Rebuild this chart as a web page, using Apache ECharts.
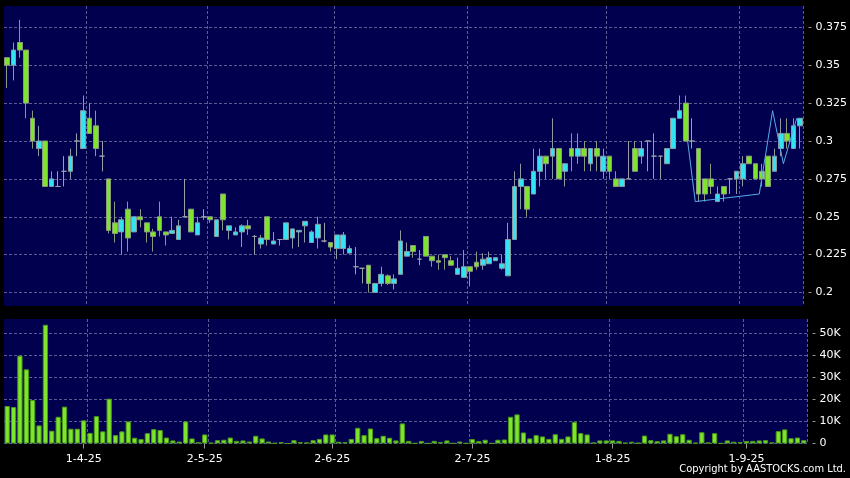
<!DOCTYPE html>
<html><head><meta charset="utf-8">
<script src="https://cdn.jsdelivr.net/npm/echarts@6/dist/echarts.min.js"></script>
<style>html,body{margin:0;padding:0;background:#000;}#c{width:850px;height:478px;}</style>
</head><body><div id="c"></div>
<script>
const dates = [
'14-3-25','17-3-25','18-3-25','19-3-25','20-3-25','21-3-25','24-3-25','25-3-25','26-3-25','27-3-25','28-3-25','31-3-25',
'1-4-25','2-4-25','3-4-25','7-4-25','8-4-25','9-4-25','10-4-25','11-4-25','14-4-25','15-4-25','16-4-25','17-4-25','22-4-25','23-4-25','24-4-25','25-4-25','28-4-25','29-4-25','30-4-25',
'2-5-25','6-5-25','7-5-25','8-5-25','9-5-25','12-5-25','13-5-25','14-5-25','15-5-25','16-5-25','19-5-25','20-5-25','21-5-25','22-5-25','23-5-25','26-5-25','27-5-25','28-5-25','29-5-25','30-5-25',
'2-6-25','3-6-25','4-6-25','5-6-25','6-6-25','9-6-25','10-6-25','11-6-25','12-6-25','13-6-25','16-6-25','17-6-25','18-6-25','19-6-25','20-6-25','23-6-25','24-6-25','25-6-25','26-6-25','27-6-25','30-6-25',
'1-7-25','2-7-25','3-7-25','4-7-25','7-7-25','8-7-25','9-7-25','10-7-25','11-7-25','14-7-25','15-7-25','16-7-25','17-7-25','18-7-25','21-7-25','22-7-25','23-7-25','24-7-25','25-7-25','28-7-25','29-7-25','30-7-25','31-7-25',
'1-8-25','4-8-25','5-8-25','6-8-25','7-8-25','8-8-25','11-8-25','12-8-25','13-8-25','14-8-25','15-8-25','18-8-25','19-8-25','20-8-25','21-8-25','22-8-25','25-8-25','26-8-25','27-8-25','28-8-25','29-8-25',
'1-9-25','2-9-25','3-9-25','4-9-25','5-9-25','8-9-25','9-9-25','10-9-25','11-9-25','12-9-25'
];
// [open, close, low, high]
const ohlc = [
[0.355,0.35,0.335,0.355],[0.35,0.36,0.34,0.365],[0.365,0.36,0.355,0.38],[0.36,0.325,0.315,0.36],[0.315,0.30,0.295,0.32],
[0.295,0.30,0.29,0.31],[0.30,0.27,0.27,0.30],[0.27,0.275,0.27,0.28],[0.27,0.27,0.27,0.28],[0.28,0.28,0.27,0.29],
[0.28,0.29,0.275,0.295],[0.30,0.30,0.29,0.305],[0.295,0.32,0.295,0.33],[0.315,0.305,0.305,0.325],[0.31,0.295,0.29,0.32],
[0.29,0.29,0.28,0.30],[0.275,0.241,0.239,0.275],[0.246,0.239,0.233,0.26],[0.24,0.248,0.225,0.25],[0.255,0.236,0.227,0.26],
[0.24,0.25,0.24,0.25],[0.25,0.248,0.243,0.255],[0.246,0.24,0.233,0.246],[0.24,0.237,0.227,0.242],[0.25,0.241,0.237,0.26],
[0.24,0.238,0.231,0.24],[0.239,0.241,0.239,0.25],[0.235,0.244,0.235,0.248],[0.25,0.25,0.25,0.275],[0.255,0.24,0.24,0.255],
[0.238,0.246,0.238,0.25],[0.25,0.25,0.248,0.255],[0.25,0.248,0.246,0.25],[0.237,0.248,0.237,0.248],[0.265,0.248,0.241,0.265],
[0.241,0.244,0.235,0.244],[0.238,0.24,0.238,0.243],[0.24,0.244,0.23,0.245],[0.244,0.242,0.238,0.248],[0.237,0.237,0.225,0.238],
[0.232,0.236,0.229,0.238],[0.25,0.235,0.231,0.25],[0.232,0.234,0.232,0.24],[0.235,0.235,0.231,0.235],[0.235,0.246,0.235,0.246],
[0.236,0.242,0.229,0.242],[0.24,0.241,0.23,0.241],[0.244,0.247,0.233,0.247],[0.233,0.24,0.233,0.241],[0.236,0.245,0.229,0.25],
[0.234,0.234,0.233,0.246],[0.233,0.23,0.227,0.233],[0.229,0.238,0.222,0.238],[0.229,0.238,0.225,0.24],[0.226,0.229,0.226,0.231],
[0.217,0.217,0.212,0.23],[0.216,0.216,0.206,0.216],[0.218,0.206,0.2,0.218],[0.2,0.206,0.2,0.206],[0.206,0.212,0.204,0.217],
[0.211,0.206,0.205,0.212],[0.206,0.209,0.202,0.212],[0.212,0.234,0.212,0.241],[0.224,0.227,0.224,0.233],[0.231,0.227,0.223,0.231],
[0.222,0.222,0.218,0.228],[0.237,0.224,0.224,0.237],[0.224,0.221,0.217,0.224],[0.221,0.22,0.215,0.225],[0.225,0.223,0.215,0.225],
[0.221,0.218,0.218,0.224],[0.212,0.216,0.212,0.223],[0.21,0.217,0.21,0.228],[0.217,0.214,0.204,0.217],[0.22,0.217,0.215,0.227],
[0.218,0.222,0.215,0.226],[0.219,0.223,0.219,0.227],[0.221,0.223,0.221,0.223],[0.216,0.219,0.215,0.225],[0.211,0.235,0.211,0.246],
[0.235,0.27,0.235,0.28],[0.27,0.275,0.255,0.285],[0.27,0.255,0.25,0.27],[0.265,0.28,0.265,0.295],[0.28,0.29,0.27,0.295],
[0.29,0.285,0.275,0.29],[0.29,0.295,0.275,0.315],[0.295,0.275,0.275,0.295],[0.28,0.285,0.27,0.285],[0.295,0.29,0.28,0.305],
[0.29,0.295,0.285,0.305],[0.295,0.29,0.28,0.30],[0.285,0.295,0.28,0.295],[0.295,0.29,0.28,0.30],[0.28,0.29,0.275,0.295],
[0.29,0.28,0.275,0.29],[0.275,0.27,0.27,0.28],[0.27,0.275,0.27,0.275],[0.275,0.275,0.275,0.30],[0.295,0.28,0.28,0.30],
[0.29,0.295,0.285,0.30],[0.30,0.30,0.28,0.30],[0.29,0.29,0.275,0.305],[0.29,0.29,0.275,0.29],[0.285,0.295,0.285,0.295],
[0.295,0.315,0.295,0.315],[0.315,0.32,0.315,0.33],[0.325,0.30,0.30,0.33],[0.30,0.30,0.295,0.315],[0.295,0.265,0.26,0.295],
[0.275,0.265,0.26,0.275],[0.275,0.27,0.265,0.285],[0.26,0.265,0.26,0.27],[0.27,0.265,0.26,0.27],[0.275,0.275,0.265,0.275],
[0.275,0.28,0.265,0.28],[0.275,0.285,0.27,0.29],[0.29,0.285,0.285,0.29],[0.285,0.275,0.275,0.285],[0.28,0.275,0.27,0.285],
[0.29,0.27,0.27,0.29],[0.28,0.29,0.28,0.295],[0.295,0.305,0.29,0.315],[0.305,0.30,0.295,0.315],[0.295,0.31,0.295,0.315],
[0.31,0.315,0.295,0.315]
];
const volumes = [
17000,16500,39800,33600,19700,8200,53800,5800,12100,16700,
6700,6700,10500,4800,12400,5500,20300,3800,5500,10000,
2600,2000,4700,6500,6100,2700,1400,900,10000,2300,
600,4100,300,1500,1700,2700,1200,1400,900,3500,
2300,900,200,600,0,1500,600,500,1500,2100,
4100,4100,800,600,2100,7100,3800,6800,2400,3500,
2600,1400,9100,1200,100,1100,100,1200,600,1400,
100,900,100,2000,1100,1700,100,1700,1800,12100,
13200,5000,2300,3800,3200,2100,4200,2100,3200,9800,
4700,4100,500,1400,1400,1400,1200,300,800,300,
3600,1500,1100,1400,4400,3300,4200,1700,300,5100,
500,4700,100,1400,800,600,1100,1200,1400,1500,
500,5600,6400,2400,2700,1500
];
const priceTicks = [0.2,0.225,0.25,0.275,0.3,0.325,0.35,0.375];
const priceTickLabels = ['0.2','0.225','0.25','0.275','0.3','0.325','0.35','0.375'];
const volumeTicks = [0,10000,20000,30000,40000,50000];
const volumeTickLabels = ['0','10K','20K','30K','40K','50K'];
const labelDates = ['1-4-25','2-5-25','2-6-25','2-7-25','1-8-25','1-9-25'];
const gridDates = ['2-4-25','6-5-25','3-6-25','2-7-25','1-8-25','1-9-25'];
const trendX = [107.3,108.5,118.6,120.7,122.4,124.5];
const trendY = [0.30,0.26,0.265,0.32,0.285,0.315];

const FONT = 'DejaVu Sans';
const NAVY = '#00004e';
const GRIDLINE = {show:true, lineStyle:{color:'#5c5c94', type:[3,2], width:1}};
function tickLabel(ticks, labels, v){
  const i = ticks.findIndex(t => Math.abs(t - v) < 1e-9);
  return i < 0 ? '' : '{d|-} ' + labels[i];
}
const chart = echarts.init(document.getElementById('c'), null, {renderer:'canvas', width:850, height:478});
chart.setOption({
  backgroundColor:'#000',
  animation:false,
  grid:[
    {left:4, right:43, top:6, height:300, show:true, backgroundColor:NAVY, borderWidth:0},
    {left:4, right:43, top:319, height:124.5, show:true, backgroundColor:NAVY, borderWidth:0}
  ],
  xAxis:[
    {type:'category', gridIndex:0, data:dates, boundaryGap:true,
     axisLine:{show:false}, axisTick:{show:false}, axisLabel:{show:false},
     splitLine:Object.assign({}, GRIDLINE, {interval:(i,v)=>gridDates.includes(dates[i])})},
    {type:'category', gridIndex:1, data:dates, boundaryGap:true,
     axisLine:{show:false},
     axisTick:{show:true, alignWithLabel:true, length:5, interval:(i,v)=>labelDates.includes(dates[i]), lineStyle:{color:'#999'}},
     axisLabel:{interval:(i,v)=>labelDates.includes(dates[i]), color:'#fff', fontSize:11, fontFamily:FONT, margin:10},
     splitLine:Object.assign({}, GRIDLINE, {interval:(i,v)=>gridDates.includes(dates[i])})},
    {type:'value', gridIndex:0, min:-0.5, max:dates.length-0.5, show:false}
  ],
  yAxis:[
    {type:'value', gridIndex:0, position:'right', min:0.1911, max:0.3891,
     axisLine:{show:false}, axisTick:{show:false, customValues:priceTicks},
     axisLabel:{customValues:priceTicks, color:'#fff', fontSize:11, fontFamily:FONT, margin:5,
       formatter:v=>tickLabel(priceTicks, priceTickLabels, v),
       rich:{d:{color:'#aaa', fontSize:11, fontFamily:FONT}}},
     splitLine:GRIDLINE},
    {type:'value', gridIndex:1, position:'right', min:0, max:56400,
     axisLine:{show:false}, axisTick:{show:false, customValues:volumeTicks},
     axisLabel:{customValues:volumeTicks, color:'#fff', fontSize:11, fontFamily:FONT, margin:5,
       formatter:v=>tickLabel(volumeTicks, volumeTickLabels, v),
       rich:{d:{color:'#aaa', fontSize:11, fontFamily:FONT}}},
     splitLine:GRIDLINE}
  ],
  series:[
    {type:'candlestick', xAxisIndex:0, yAxisIndex:0, data:ohlc, barWidth:'82%',
     itemStyle:{color:'#33e3f2', color0:'#7ee52c', borderColor:'#8a9aa0', borderColor0:'#8a9a80', borderColorDoji:'#9aa0a8', borderWidth:1}},
    {type:'line', xAxisIndex:2, yAxisIndex:0, data:trendX.map((x,i)=>[x, trendY[i]]), symbol:'none',
     lineStyle:{color:'#5aaae8', width:1}, z:5},
    {type:'bar', xAxisIndex:1, yAxisIndex:1, data:volumes, barWidth:'82%',
     itemStyle:{color:'#7ee52c', borderColor:'#4a9a18', borderWidth:1}}
  ],
  graphic:[{type:'text', right:4, top:464, style:{text:'Copyright by AASTOCKS.com Ltd.', fill:'#fff', fontSize:11, fontFamily:'DejaVu Sans Condensed'}}]
});
</script></body></html>
